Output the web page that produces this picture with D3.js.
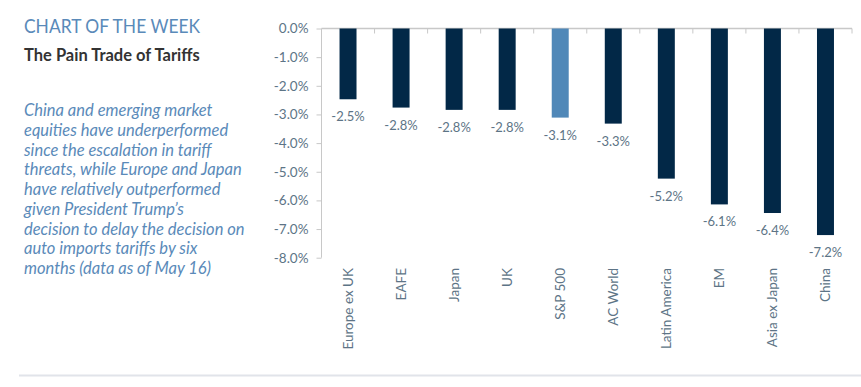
<!DOCTYPE html>
<html>
<head>
<meta charset="utf-8">
<script src="https://cdn.jsdelivr.net/npm/d3@7/dist/d3.min.js"></script>
<style>
  html, body { margin: 0; padding: 0; background: #ffffff; }
  svg { display: block; }
</style>
</head>
<body>
<svg id="chart" width="861" height="387"></svg>
<script>
const categories = ["Europe ex UK", "EAFE", "Japan", "UK", "S&P 500", "AC World", "Latin America", "EM", "Asia ex Japan", "China"];
const values = [-2.47, -2.76, -2.84, -2.84, -3.11, -3.32, -5.24, -6.14, -6.44, -7.21];
const highlight = ["S&P 500"];
const yTicks = [0, -1, -2, -3, -4, -5, -6, -7, -8];
const titleText = "CHART OF THE WEEK";
const subtitleText = "The Pain Trade of Tariffs";
const noteLines = [
  "China and emerging market",
  "equities have underperformed",
  "since the escalation in tariff",
  "threats, while Europe and Japan",
  "have relatively outperformed",
  "given President Trump\u2019s",
  "decision to delay the decision on",
  "auto imports tariffs by six",
  "months (data as of May 16)"
];

const svg = d3.select("#chart");
const font = "Lato, 'Open Sans', sans-serif";
const locale = d3.formatLocale({ decimal: ".", thousands: ",", grouping: [3], currency: ["$", ""], minus: "-" });
const fmt = locale.format(".1f");

const x0 = 321.5, x1 = 852, yTop = 28.5, yBot = 257.7;
const x = d3.scaleBand().domain(categories).range([x0, x1]).paddingInner(0.68).paddingOuter(0.34);
const y = d3.scaleLinear().domain([0, -8]).range([yTop, yBot]);

// Titles
svg.append("text").attr("x", 24).attr("y", 33).text(titleText)
  .attr("textLength", 176).attr("lengthAdjust", "spacingAndGlyphs")
  .attr("font-family", font).attr("font-size", 19.5).attr("fill", "#5a8ab9");
svg.append("text").attr("x", 24).attr("y", 61).text(subtitleText)
  .attr("font-family", font).attr("font-size", 16.5).attr("font-weight", "bold").attr("fill", "#333333");

svg.append("g").selectAll("text").data(noteLines).join("text")
  .attr("x", 24).attr("y", (d, i) => 116 + i * 19.75)
  .text(d => d)
  .attr("font-family", font).attr("font-size", 16.5).attr("font-style", "italic").attr("fill", "#5a8ab9");

// Y axis
const yAxis = svg.append("g").attr("transform", `translate(${x0},0)`)
  .call(d3.axisLeft(y).tickValues(yTicks).tickSize(5).tickPadding(8).tickFormat(d => fmt(d) + "%"));
yAxis.select(".domain").attr("stroke", "#c8c8c8").attr("d", `M-0,${yTop}V${yBot}`);
yAxis.selectAll(".tick line").attr("stroke", "#c8c8c8");
yAxis.selectAll(".tick text").attr("font-family", font).attr("font-size", 13.5).attr("fill", "#5d7486");

// X axis at zero
const bounds = d3.range(categories.length + 1).map(i => x0 + i * (x1 - x0) / categories.length);
svg.append("line").attr("x1", x0).attr("x2", x1).attr("y1", y(0)).attr("y2", y(0))
  .attr("stroke", "#c8c8c8").attr("stroke-width", 1.5);
svg.append("g").selectAll("line").data(bounds.slice(1)).join("line")
  .attr("x1", d => d).attr("x2", d => d).attr("y1", y(0)).attr("y2", y(0) + 5)
  .attr("stroke", "#c8c8c8");

// Bars
svg.append("g").selectAll("rect").data(categories).join("rect")
  .attr("x", d => x(d)).attr("width", x.bandwidth())
  .attr("y", y(0)).attr("height", (d, i) => y(values[i]) - y(0))
  .attr("fill", d => highlight.includes(d) ? "#5088b8" : "#022847");

// Data labels
svg.append("g").selectAll("text").data(categories).join("text")
  .attr("x", d => x(d) + x.bandwidth() / 2)
  .attr("y", (d, i) => y(values[i]) + 22)
  .attr("text-anchor", "middle")
  .text((d, i) => fmt(values[i]) + "%")
  .attr("font-family", font).attr("font-size", 13).attr("fill", "#5d7486");

// Category labels rotated
svg.append("g").selectAll("text").data(categories).join("text")
  .attr("transform", d => `translate(${x(d) + x.bandwidth() / 2 + 5},268) rotate(-90)`)
  .attr("text-anchor", "end")
  .text(d => d)
  .attr("font-family", font).attr("font-size", 13.5).attr("fill", "#5d7486");

// Bottom rule
svg.append("line").attr("x1", 19).attr("x2", 861).attr("y1", 375.5).attr("y2", 375.5)
  .attr("stroke", "#e1e4ea").attr("stroke-width", 2);
</script>
</body>
</html>
